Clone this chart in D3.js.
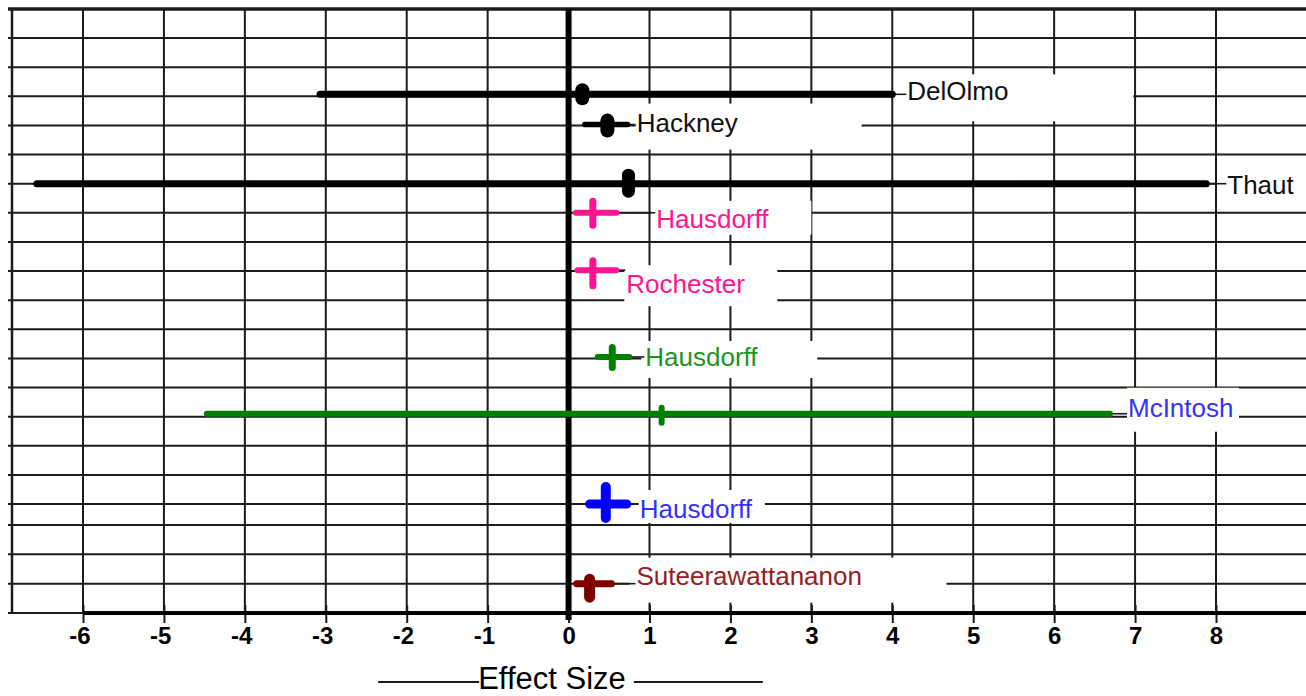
<!DOCTYPE html>
<html>
<head>
<meta charset="utf-8">
<script src="https://cdn.jsdelivr.net/npm/d3@7"></script>
<style>
  html, body { margin: 0; padding: 0; background: #fff; }
  svg { display: block; }
  text { font-family: "Liberation Sans", Arial, sans-serif; }
</style>
</head>
<body>
<svg id="chart" width="1306" height="696"></svg>
<script>
// ---------------- DATA ----------------
const studies   = ["DelOlmo", "Hackney", "Thaut", "Hausdorff", "Rochester", "Hausdorff", "McIntosh", "Hausdorff", "Suteerawattananon"];
const rowIndex  = [2.93, 3.97, 6, 7, 8.97, 11.95, 13.9, 17, 20];
const effect    = [0.17, 0.48, 0.74, 0.30, 0.30, 0.54, 1.15, 0.46, 0.26];
const lower     = [-3.07, 0.20, -6.57, 0.09, 0.11, 0.36, -4.47, 0.26, 0.10];
const upper     = [4.00, 0.73, 7.88, 0.59, 0.59, 0.75, 6.69, 0.72, 0.53];
const xTicks    = [-6, -5, -4, -3, -2, -1, 0, 1, 2, 3, 4, 5, 6, 7, 8];
const gridRows  = d3.range(0, 22);
const axisTitle = "Effect Size";

// ---------------- STYLE / LAYOUT ----------------
const markColor  = ["#000", "#000", "#000", "#ff1493", "#ff1493", "#008000", "#008000", "#0000ff", "#800000"];
const textColor  = ["#111", "#111", "#111", "#ff1493", "#ff1493", "#1f931f", "#3333ff", "#3333ff", "#962020"];
const markShape  = ["pill", "pill", "pill", "cross", "cross", "cross", "tick", "cross", "cross"];
const ciWidth    = [7, 5.5, 7, 6, 6, 6, 6, 9, 7];
const markWidth  = [14, 14, 13, 7, 7, 7, 6, 10, 11];
const markUp     = [11, 11, 15, 15, 13, 13, 9, 22, 10];
const markDown   = [11, 13, 14, 16, 19, 14, 12, 19, 19];
const labelDx    = [15, 9, 21, 40, 10, 16, 18, 13, 25];      // gap from CI end to label
const labelDy    = [6, 7, 10, 15, 23, 9, 3, 14, 1];          // baseline below row
const labelBox   = [                                        // [left, right, top, bottom] relative to text start/baseline
  [-13, 226, -26, 21], [-1, 225, -28, 18], [-10, 80, -30, 12],
  [-5, 155, -27, 7], [-2, 151, -28, 13], [-4, 172, -25, 12],
  [-1, 111, -29, 15], [-2, 125, -28, 5], [-7, 310, -27, 18]
];

const W = 1306, H = 696;
const plotLeft = 12, gridStart = 8;
const svg = d3.select("#chart");
svg.append("rect").attr("width", W).attr("height", H).attr("fill", "#fff");

const x = d3.scaleLinear().domain([-6, 8]).range([83, 1216]);
const y = d3.scaleLinear().domain([0, 17, 18, 21]).range([9, 504, 525, 613]);
const yBottom = y(21);

const ink = "#1c1c1c";

// horizontal grid
svg.append("g").selectAll("line").data(gridRows.slice(0, 21)).join("line")
  .attr("x1", gridStart).attr("x2", W)
  .attr("y1", d => y(d)).attr("y2", d => y(d))
  .attr("stroke", ink).attr("stroke-width", d => d === 0 ? 3.5 : 2);

// vertical grid
svg.append("g").selectAll("line").data(xTicks.filter(d => d !== 0)).join("line")
  .attr("x1", d => x(d)).attr("x2", d => x(d))
  .attr("y1", y(0)).attr("y2", yBottom)
  .attr("stroke", ink).attr("stroke-width", 2);
svg.append("line").attr("x1", plotLeft).attr("x2", plotLeft)
  .attr("y1", y(0)).attr("y2", yBottom).attr("stroke", ink).attr("stroke-width", 2.5);

// label positions
const idx = d3.range(studies.length);
const tx = i => x(upper[i]) + labelDx[i];
const ty = i => y(rowIndex[i]) + labelDy[i];

// white label boxes
svg.append("g").selectAll("rect").data(idx).join("rect")
  .attr("x", i => tx(i) + labelBox[i][0])
  .attr("y", i => ty(i) + labelBox[i][2])
  .attr("width", i => labelBox[i][1] - labelBox[i][0])
  .attr("height", i => labelBox[i][3] - labelBox[i][2])
  .attr("fill", "#fff");

// x axis
const axisG = svg.append("g").attr("transform", `translate(0,${yBottom})`);
axisG.call(d3.axisBottom(x).tickValues(xTicks).tickSizeOuter(0).tickSizeInner(10)
  .tickPadding(4).tickFormat(d => String(d)));
axisG.select(".domain").remove();
axisG.selectAll(".tick line").attr("y1", -8).attr("y2", 10).attr("stroke", ink).attr("stroke-width", 2);
axisG.selectAll(".tick text")
  .attr("fill", "#000")
  .style("font-size", "24px").style("font-weight", "bold")
  .attr("text-anchor", d => d < 0 ? "end" : "middle")
  .attr("x", d => d < 0 ? 7 : 0)
  .attr("y", 14);
axisG.append("line").attr("x1", plotLeft - 4).attr("x2", x(-6)).attr("y1", 0).attr("y2", 0)
  .attr("stroke", ink).attr("stroke-width", 2);
axisG.append("line").attr("x1", x(-6)).attr("x2", W).attr("y1", 0).attr("y2", 0)
  .attr("stroke", "#000").attr("stroke-width", 4);

// zero line
svg.append("line").attr("x1", x(0)).attr("x2", x(0))
  .attr("y1", y(0)).attr("y2", yBottom + 7)
  .attr("stroke", "#000").attr("stroke-width", 6);

// connectors from CI end to label
svg.append("g").selectAll("line").data(idx).join("line")
  .attr("x1", i => x(upper[i])).attr("x2", i => tx(i) - 1)
  .attr("y1", i => y(rowIndex[i])).attr("y2", i => y(rowIndex[i]))
  .attr("stroke", ink).attr("stroke-width", 1.6);

// CI lines
svg.append("g").selectAll("line").data(idx).join("line")
  .attr("x1", i => x(lower[i])).attr("x2", i => x(upper[i]))
  .attr("y1", i => y(rowIndex[i])).attr("y2", i => y(rowIndex[i]))
  .attr("stroke", i => markColor[i]).attr("stroke-width", i => ciWidth[i])
  .attr("stroke-linecap", "round");

// markers
const mk = svg.append("g");
mk.selectAll("rect").data(idx.filter(i => markShape[i] === "pill")).join("rect")
  .attr("x", i => x(effect[i]) - markWidth[i] / 2)
  .attr("y", i => y(rowIndex[i]) - markUp[i])
  .attr("width", i => markWidth[i])
  .attr("height", i => markUp[i] + markDown[i])
  .attr("rx", i => markWidth[i] / 2)
  .attr("fill", i => markColor[i]);
mk.selectAll("line").data(idx.filter(i => markShape[i] !== "pill")).join("line")
  .attr("x1", i => x(effect[i])).attr("x2", i => x(effect[i]))
  .attr("y1", i => y(rowIndex[i]) - markUp[i] + markWidth[i] / 2)
  .attr("y2", i => y(rowIndex[i]) + markDown[i] - markWidth[i] / 2)
  .attr("stroke", i => markColor[i]).attr("stroke-width", i => markWidth[i])
  .attr("stroke-linecap", "round");

// labels
svg.append("g").selectAll("text").data(idx).join("text")
  .attr("x", i => tx(i)).attr("y", i => ty(i))
  .attr("fill", i => textColor[i])
  .style("font-size", "26px")
  .text(i => studies[i]);

// axis title with side rules
const title = svg.append("text")
  .attr("x", 552).attr("y", 689)
  .attr("text-anchor", "middle")
  .style("font-size", "31px").attr("fill", "#000")
  .text(axisTitle);
const bb = title.node().getBBox();
svg.append("line").attr("x1", bb.x - 100).attr("x2", bb.x + 1)
  .attr("y1", 682).attr("y2", 682).attr("stroke", ink).attr("stroke-width", 2);
svg.append("line").attr("x1", bb.x + bb.width + 8).attr("x2", bb.x + bb.width + 137)
  .attr("y1", 682).attr("y2", 682).attr("stroke", ink).attr("stroke-width", 2);
</script>
</body>
</html>
